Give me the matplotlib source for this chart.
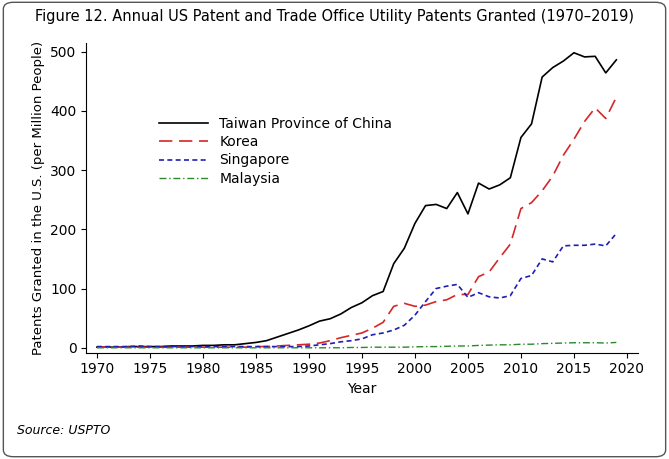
import numpy as np
import matplotlib.pyplot as plt
from matplotlib.patches import FancyBboxPatch

years = np.arange(1970, 2020)
taiwan = [1, 1, 1, 2, 2, 2, 2, 3, 3, 3, 4, 4, 5, 5, 7, 9, 12, 18, 24, 30,
          37, 45, 49, 57, 68, 76, 88, 95, 142, 168, 210, 240, 242, 235, 262, 226,
          278, 268, 275, 287, 355, 378, 457, 473, 484, 498, 491, 492, 464, 486]
korea = [1, 1, 1, 1, 1, 1, 1, 1, 1, 1, 1, 1, 1, 1, 1, 2, 2, 3, 4, 5,
         6, 8, 12, 17, 21, 25, 33, 43, 70, 75, 70, 72, 78, 81, 90, 90,
         120, 128, 152, 175, 235, 245, 265, 290, 325, 352, 382, 405, 387, 423]
singapore = [2, 2, 2, 2, 3, 2, 2, 2, 2, 2, 2, 2, 2, 2, 2, 2, 2, 2, 2, 2,
             3, 5, 7, 10, 12, 15, 22, 25, 30, 38, 55, 78, 100, 104, 107, 85,
             93, 86, 84, 88, 117, 122, 150, 145, 172, 173, 173, 175, 172, 193]
malaysia = [0, 0, 0, 0, 0, 0, 0, 0, 0, 0, 0, 0, 0, 0, 0, 0, 0, 0, 0, 0,
            0, 0, 0, 0, 0.5, 0.5, 1, 1, 1, 1, 1.5, 2, 2, 2.5, 3, 3,
            4, 4.5, 5, 5, 6, 6, 7, 7.5, 8, 8.5, 8.5, 8.5, 8, 9]

fig = plt.figure(figsize=(6.69, 4.59), dpi=100)
fig.patches.append(FancyBboxPatch((0.005, 0.005), 0.99, 0.99, boxstyle="round,pad=0,rounding_size=0.015",
                                  transform=fig.transFigure, fill=False, ec='#555555', lw=1))
ax = fig.add_axes([0.129, 0.232, 0.824, 0.675])
ax.plot(years, taiwan, color='black', lw=1.2, label='Taiwan Province of China')
ax.plot(years, korea, color='#d62728', lw=1.2, dashes=(8, 4), label='Korea')
ax.plot(years, singapore, color='#1f1fb4', lw=1.2, dashes=(3, 2), label='Singapore')
ax.plot(years, malaysia, color='#2a8a2a', lw=1.0, dashes=(5, 2, 1, 2), label='Malaysia')
ax.set_xlim(1969, 2021)
ax.set_ylim(-8, 515)
ax.set_xticks(range(1970, 2021, 5))
ax.set_yticks(range(0, 501, 100))
ax.tick_params(labelsize=10)
for s in ['top', 'right']:
    ax.spines[s].set_visible(False)
ax.set_xlabel('Year', fontsize=10)
ax.set_ylabel('Patents Granted in the U.S. (per Million People)', fontsize=9.5)
ax.legend(loc='upper left', bbox_to_anchor=(0.11, 0.8), frameon=False, fontsize=10, handlelength=3.5,
          labelspacing=0.3)
fig.text(0.5, 0.955, 'Figure 12. Annual US Patent and Trade Office Utility Patents Granted (1970\u20132019)',
         ha='center', fontsize=10.5)
fig.text(0.025, 0.055, 'Source: USPTO', fontsize=9, style='italic')
fig.savefig('out.png', dpi=100)
